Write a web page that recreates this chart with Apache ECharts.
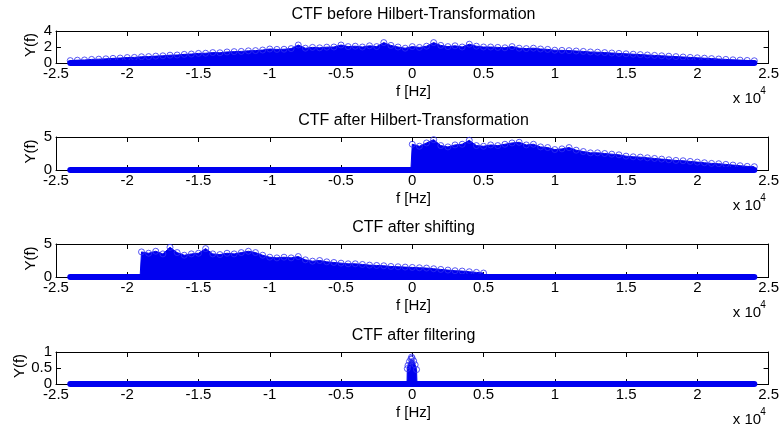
<!DOCTYPE html>
<html>
<head>
<meta charset="utf-8">
<script src="https://cdn.jsdelivr.net/npm/echarts@6/dist/echarts.min.js"></script>
<style>
  html, body { margin: 0; padding: 0; background: #fff; }
  #chart { width: 782px; height: 428px; }
</style>
</head>
<body>
<div id="chart"></div>
<script>
// CTF spectra (f in units of 1e4 Hz), envelope of the stem tips

const titles = [
  'CTF before Hilbert-Transformation',
  'CTF after Hilbert-Transformation',
  'CTF after shifting',
  'CTF after filtering'
];

const yRanges = [[0, 4, 2], [0, 5, 5], [0, 5, 5], [0, 1, 0.5]];

// every stem has a zero-level marker from -2.4 to 2.4
const baseline = [-2.4, 2.4];

// plot 1: before Hilbert
const f1 = [
  -2.40, -2.35, -2.30, -2.25, -2.20, -2.15, -2.10, -2.05, -2.00,
  -1.95, -1.90, -1.85, -1.80, -1.75, -1.70, -1.65, -1.60, -1.55, -1.50,
  -1.45, -1.40, -1.35, -1.30, -1.25, -1.20, -1.15, -1.10, -1.05, -1.00,
  -0.95, -0.90, -0.85, -0.80, -0.75, -0.70, -0.65, -0.60, -0.55, -0.50,
  -0.45, -0.40, -0.35, -0.30, -0.25, -0.20, -0.15, -0.10, -0.05, 0.00,
  0.05, 0.10, 0.15, 0.20, 0.25, 0.30, 0.35, 0.40, 0.45, 0.50,
  0.55, 0.60, 0.65, 0.70, 0.75, 0.80, 0.85, 0.90, 0.95, 1.00,
  1.05, 1.10, 1.15, 1.20, 1.25, 1.30, 1.35, 1.40, 1.45, 1.50,
  1.55, 1.60, 1.65, 1.70, 1.75, 1.80, 1.85, 1.90, 1.95, 2.00,
  2.05, 2.10, 2.15, 2.20, 2.25, 2.30, 2.35, 2.40
];
const y1 = [
  0.30, 0.35, 0.38, 0.45, 0.48, 0.52, 0.58, 0.62, 0.68,
  0.70, 0.78, 0.80, 0.86, 0.90, 0.98, 1.00, 1.08, 1.12, 1.20,
  1.22, 1.30, 1.28, 1.38, 1.42, 1.45, 1.52, 1.55, 1.62, 1.75,
  1.70, 1.72, 1.80, 2.25, 1.85, 1.95, 1.90, 1.98, 2.00, 2.25,
  2.05, 2.10, 2.00, 2.15, 2.05, 2.55, 2.20, 2.00, 1.85, 2.05,
  1.95, 2.10, 2.55, 2.20, 2.05, 2.15, 2.00, 2.35, 2.10, 2.00,
  2.00, 1.95, 1.90, 2.05, 1.85, 1.80, 1.85, 1.75, 1.70, 1.60,
  1.58, 1.55, 1.50, 1.45, 1.38, 1.35, 1.30, 1.25, 1.20, 1.15,
  1.10, 1.05, 1.00, 0.95, 0.90, 0.85, 0.80, 0.75, 0.70, 0.65,
  0.60, 0.55, 0.50, 0.45, 0.40, 0.36, 0.32, 0.28
];

// plot 2: after Hilbert (one-sided)
const f2 = [
  -0.01,
  0.00, 0.05, 0.10, 0.15, 0.20, 0.25, 0.30, 0.35, 0.40, 0.45,
  0.50, 0.55, 0.60, 0.65, 0.70, 0.75, 0.80, 0.85, 0.90, 0.95,
  1.00, 1.05, 1.10, 1.15, 1.20, 1.25, 1.30, 1.35, 1.40, 1.45,
  1.50, 1.55, 1.60, 1.65, 1.70, 1.75, 1.80, 1.85, 1.90, 1.95,
  2.00, 2.05, 2.10, 2.15, 2.20, 2.25, 2.30, 2.35, 2.40
];
const y2 = [
  0,
  3.9, 3.6, 4.1, 4.6, 3.7, 3.5, 3.8, 3.9, 4.5, 3.7,
  3.6, 3.8, 3.7, 3.9, 4.1, 4.2, 3.8, 3.9, 3.5, 3.4,
  3.1, 3.2, 3.4, 3.0, 2.8, 2.6, 2.6, 2.5, 2.4, 2.3,
  2.1, 2.0, 1.95, 1.85, 1.75, 1.65, 1.55, 1.45, 1.40, 1.30,
  1.2, 1.1, 1.0, 0.95, 0.85, 0.75, 0.65, 0.55, 0.50
];

// plot 3: after shifting by -1.9e4 Hz
const f3 = [
  -1.91,
  -1.90, -1.85, -1.80, -1.75, -1.70, -1.65, -1.60, -1.55, -1.50, -1.45,
  -1.40, -1.35, -1.30, -1.25, -1.20, -1.15, -1.10, -1.05, -1.00, -0.95,
  -0.90, -0.85, -0.80, -0.75, -0.70, -0.65, -0.60, -0.55, -0.50, -0.45,
  -0.40, -0.35, -0.30, -0.25, -0.20, -0.15, -0.10, -0.05, 0.00, 0.05,
  0.10, 0.15, 0.20, 0.25, 0.30, 0.35, 0.40, 0.45, 0.50
];
const y3 = [
  0,
  3.8, 3.6, 3.9, 3.5, 4.5, 3.7, 3.3, 3.5, 3.6, 4.3,
  3.5, 3.4, 3.6, 3.5, 3.7, 3.9, 3.7, 3.3, 3.0, 2.9,
  3.0, 2.9, 3.1, 2.6, 2.4, 2.5, 2.3, 2.2, 2.1, 2.0,
  2.0, 1.9, 1.8, 1.75, 1.7, 1.6, 1.55, 1.5, 1.45, 1.4,
  1.35, 1.25, 1.15, 1.05, 0.95, 0.9, 0.8, 0.7, 0.6
];

// plot 4: after low-pass filtering
const f4 = [-0.037, -0.035, -0.03, -0.02, -0.01, -0.005, 0.00, 0.01, 0.02, 0.03, 0.033];
const y4 = [0, 0.48, 0.58, 0.70, 0.78, 0.84, 0.80, 0.72, 0.60, 0.45, 0];

const spectra = [[f1, y1], [f2, y2], [f3, y3], [f4, y4]];

const BLUE = '#0000f0';
const FONT = 'Arial, "Liberation Sans", sans-serif';
const LEFT = 56, RIGHT = 11, WIDTH = 782 - LEFT - RIGHT;
const boxes = [
  { top: 31, height: 32, ylab: 31 },
  { top: 137, height: 33, ylab: 31 },
  { top: 244, height: 33, ylab: 31 },
  { top: 352, height: 32, ylab: 20 }
];

const chart = echarts.init(document.getElementById('chart'), null, { renderer: 'canvas' });

const grid = [], xAxis = [], yAxis = [], series = [], graphic = [];

boxes.forEach((b, i) => {
  const bottom = b.top + b.height;
  const [ymin, ymax, yint] = yRanges[i];
  grid.push({ left: LEFT, right: RIGHT, top: b.top, height: b.height });

  const tick = { show: true, inside: true, length: 5, lineStyle: { color: '#000' } };
  const line = { show: true, onZero: false, lineStyle: { color: '#000', width: 1 } };

  xAxis.push({
    gridIndex: i, type: 'value', position: 'bottom',
    min: -2.5, max: 2.5, interval: 0.5,
    axisLine: line, axisTick: tick, splitLine: { show: false },
    axisLabel: { color: '#000', fontSize: 15, fontFamily: FONT, margin: 3,
      formatter: v => String(+v.toFixed(1)) }
  });
  xAxis.push({
    gridIndex: i, type: 'value', position: 'top',
    min: -2.5, max: 2.5, interval: 0.5,
    axisLine: line, axisTick: tick, axisLabel: { show: false }, splitLine: { show: false }
  });
  yAxis.push({
    gridIndex: i, type: 'value', position: 'left',
    min: ymin, max: ymax, interval: yint,
    axisLine: line, axisTick: tick, splitLine: { show: false },
    axisLabel: { color: '#000', fontSize: 15, fontFamily: FONT, margin: 4 }
  });
  yAxis.push({
    gridIndex: i, type: 'value', position: 'right',
    min: ymin, max: ymax, interval: yint,
    axisLine: line, axisTick: tick, axisLabel: { show: false }, splitLine: { show: false }
  });

  const [fx, fy] = spectra[i];
  const pts = fx.map((x, k) => [x, fy[k]]);

  // dense stems -> filled envelope
  series.push({
    type: 'line', xAxisIndex: 2 * i, yAxisIndex: 2 * i,
    data: pts, showSymbol: false, silent: true, z: 2,
    lineStyle: { color: BLUE, width: 1 },
    areaStyle: { color: BLUE, opacity: 1 }
  });
  // hollow circles on the stem tips
  series.push({
    type: 'scatter', xAxisIndex: 2 * i, yAxisIndex: 2 * i,
    data: pts.filter(p => p[1] > 0), symbol: 'circle', symbolSize: 6, silent: true, z: 3,
    itemStyle: { color: 'rgba(0,0,0,0)', borderColor: '#3030f0', borderWidth: 1 }
  });
  // zero-valued stems: a thick row of markers on the baseline
  series.push({
    type: 'line', xAxisIndex: 2 * i, yAxisIndex: 2 * i,
    data: baseline.map(x => [x, 0]), showSymbol: false, silent: true, clip: false, z: 4,
    lineStyle: { color: BLUE, width: 6, cap: 'round' }
  });

  const txt = (text, x, y, size, extra) => Object.assign({
    type: 'text', x, y, silent: true,
    style: { text, fill: '#000', fontSize: size, fontFamily: FONT,
      align: 'center', textAlign: 'center', verticalAlign: 'middle', textVerticalAlign: 'middle' }
  }, extra || {});

  graphic.push(txt(titles[i], LEFT + WIDTH / 2, b.top - 16, 16));
  graphic.push(txt('f [Hz]', LEFT + WIDTH / 2, bottom + 29, 15));
  graphic.push(txt('Y(f)', b.ylab, b.top + b.height / 2 - 2, 15, { rotation: Math.PI / 2 }));
  graphic.push(txt('x 10', 747, bottom + 36, 15));
  graphic.push(txt('4', 763, bottom + 28, 10));
});

chart.setOption({
  animation: false,
  backgroundColor: '#fff',
  grid, xAxis, yAxis, series, graphic
});
</script>
</body>
</html>
